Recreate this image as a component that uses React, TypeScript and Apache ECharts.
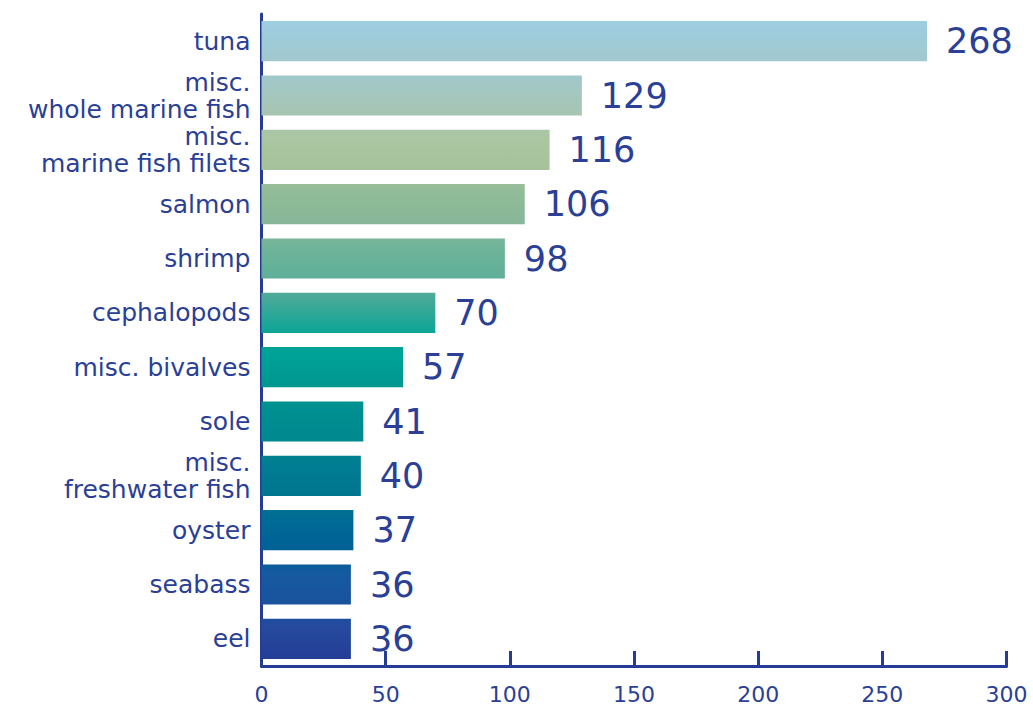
import React, { useEffect, useRef } from "react";
import * as echarts from "echarts";

const categories = [
  "tuna",
  "misc.\nwhole marine fish",
  "misc.\nmarine fish filets",
  "salmon",
  "shrimp",
  "cephalopods",
  "misc. bivalves",
  "sole",
  "misc.\nfreshwater fish",
  "oyster",
  "seabass",
  "eel",
];
const values = [268, 129, 116, 106, 98, 70, 57, 41, 40, 37, 36, 36];
const xTicks = { min: 0, max: 300, interval: 50 };

const TEXT = "#2b3f97";
const AXIS = "#253c96";
const FONT = "DejaVu Sans";

export default function App() {
  const ref = useRef<HTMLDivElement>(null);
  useEffect(() => {
    const chart = echarts.init(ref.current!, null, { renderer: "svg" });
    const grad = new echarts.graphic.LinearGradient(
      0, 14, 0, 666,
      [
        { offset: 0.0, color: "#9dcfe4" },
        { offset: 0.07, color: "#a1c8cf" },
        { offset: 0.1, color: "#a1c8c9" },
        { offset: 0.16, color: "#a8c4ae" },
        { offset: 0.19, color: "#abc6a2" },
        { offset: 0.25, color: "#a3c19a" },
        { offset: 0.27, color: "#92bc98" },
        { offset: 0.33, color: "#84b698" },
        { offset: 0.36, color: "#6eb49a" },
        { offset: 0.42, color: "#5aad98" },
        { offset: 0.44, color: "#44a998" },
        { offset: 0.5, color: "#00a496" },
        { offset: 0.53, color: "#00a096" },
        { offset: 0.58, color: "#00958f" },
        { offset: 0.61, color: "#008f91" },
        { offset: 0.67, color: "#00868e" },
        { offset: 0.69, color: "#007d92" },
        { offset: 0.75, color: "#00738e" },
        { offset: 0.78, color: "#006a96" },
        { offset: 0.83, color: "#005f95" },
        { offset: 0.86, color: "#165aa0" },
        { offset: 0.92, color: "#1a4f9c" },
        { offset: 0.94, color: "#264a9e" },
        { offset: 1.0, color: "#243a94" },
      ],
      true
    );
    chart.setOption({
      animation: false,
      grid: { left: 261.5, right: 26.5, top: 14, bottom: 40, containLabel: false },
      xAxis: {
        type: "value",
        min: xTicks.min,
        max: xTicks.max,
        interval: xTicks.interval,
        splitLine: { show: false },
        axisLine: { show: true, lineStyle: { color: AXIS, width: 3 } },
        axisTick: { show: true, inside: true, length: 15, lineStyle: { color: AXIS, width: 3 } },
        axisLabel: { color: TEXT, fontFamily: FONT, fontSize: 22, margin: 17 },
      },
      yAxis: {
        type: "category",
        inverse: true,
        data: categories,
        axisLine: { show: true, lineStyle: { color: AXIS, width: 3 } },
        axisTick: { show: false },
        axisLabel: {
          color: TEXT,
          fontFamily: FONT,
          fontSize: 25,
          lineHeight: 27,
          margin: 11,
          align: "right",
          padding: [4, 0, 0, 0],
        },
      },
      series: [
        {
          type: "bar",
          data: values,
          barCategoryGap: "26%",
          itemStyle: { color: grad },
          label: {
            show: true,
            position: "right",
            distance: 19,
            color: TEXT,
            fontFamily: FONT,
            fontSize: 35,
          },
        },
      ],
    });
    return () => chart.dispose();
  }, []);
  return <div ref={ref} style={{ width: 1033, height: 706, position: "absolute", left: 0, top: 0 }} />;
}
